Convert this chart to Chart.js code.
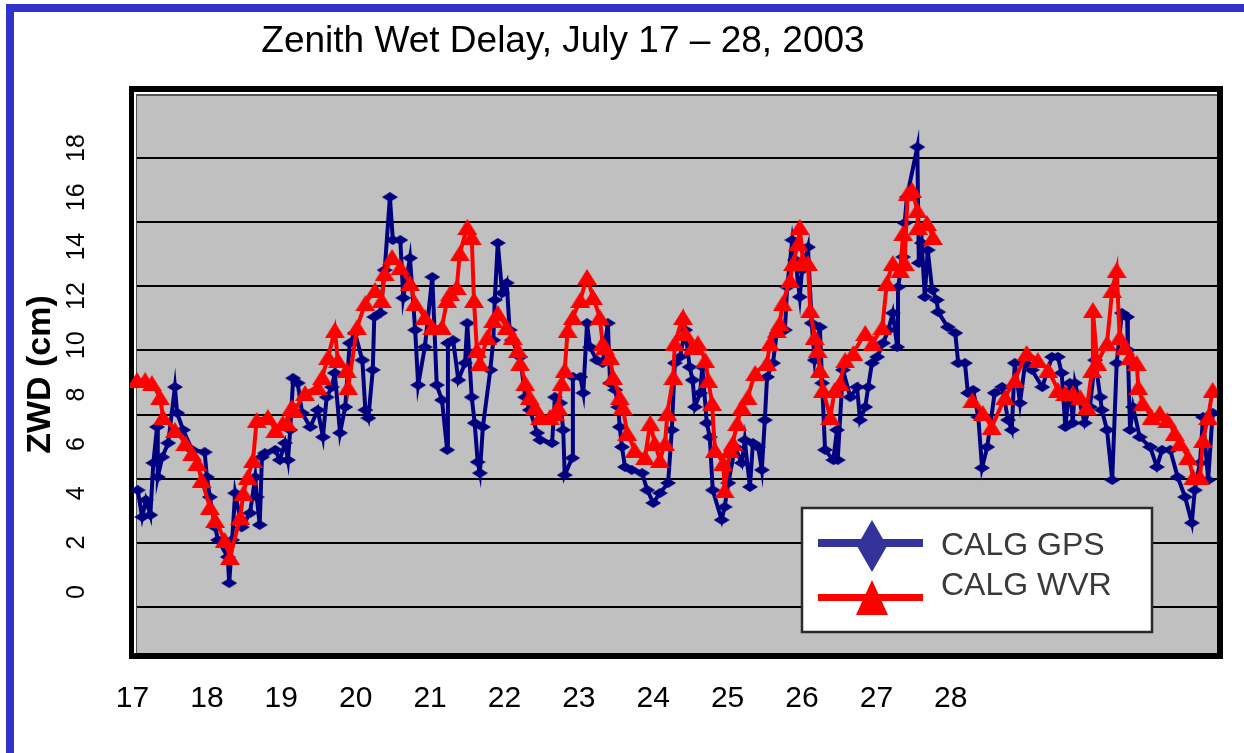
<!DOCTYPE html>
<html>
<head>
<meta charset="utf-8">
<script src="https://cdn.jsdelivr.net/npm/chart.js@4.4.0/dist/chart.umd.min.js"></script>
<style>
html,body{margin:0;padding:0;background:#fff;}
#wrap{width:1244px;height:753px;position:relative;overflow:hidden;}
</style>
</head>
<body>
<div id="wrap"><canvas id="c" width="1244" height="753"></canvas></div>
<script>
// ---- text ----
const chartTitle = 'Zenith Wet Delay, July 17 \u2013 28, 2003';
const yAxisTitle = 'ZWD (cm)';
const gpsLabel = 'CALG GPS';
const wvrLabel = 'CALG WVR';

// ---- tick labels ----
const dayLabels = [17, 18, 19, 20, 21, 22, 23, 24, 25, 26, 27, 28];
const yTickValues = [0, 2, 4, 6, 8, 10, 12, 14, 16, 18];
const gridLevels = [0, 1, 2, 3, 4, 5, 6, 7];

// ---- CALG GPS series ----
const gpsX = [17.07,17.13,17.18,17.24,17.28,17.33,17.34,17.40,17.48,17.57,17.60,17.68,17.80,17.97,18.00,18.04,18.11,18.15,18.28,18.30,
18.34,18.38,18.47,18.58,18.65,18.67,18.71,18.74,18.78,18.92,18.98,19.05,19.09,19.12,19.16,19.22,19.28,19.39,19.49,19.56,
19.61,19.68,19.72,19.79,19.86,19.92,19.99,20.09,20.13,20.17,20.23,20.25,20.33,20.39,20.46,20.50,20.60,20.64,20.73,20.80,
20.84,20.93,21.03,21.09,21.16,21.23,21.24,21.31,21.38,21.47,21.50,21.56,21.60,21.64,21.67,21.71,21.81,21.85,21.87,21.91,
21.97,22.03,22.07,22.10,22.21,22.28,22.34,22.44,22.48,22.64,22.68,22.75,22.79,22.81,22.91,22.92,23.02,23.06,23.11,23.15,
23.24,23.32,23.39,23.42,23.49,23.53,23.55,23.58,23.62,23.71,23.85,23.92,24.00,24.09,24.20,24.25,24.29,24.36,24.43,24.49,
24.53,24.56,24.63,24.66,24.72,24.76,24.80,24.92,24.96,25.01,25.10,25.19,25.23,25.30,25.34,25.41,25.46,25.50,25.53,25.61,
25.66,25.77,25.80,25.87,25.91,25.97,26.00,26.08,26.13,26.17,26.24,26.27,26.31,26.42,26.47,26.48,26.55,26.65,26.74,26.78,
26.85,26.89,26.94,27.01,27.09,27.16,27.22,27.28,27.29,27.36,27.38,27.41,27.55,27.57,27.61,27.65,27.69,27.75,27.81,27.83,
27.96,28.06,28.10,28.19,28.23,28.30,28.37,28.42,28.49,28.59,28.69,28.77,28.82,28.86,28.93,29.00,29.09,29.23,29.36,29.44,
29.49,29.54,29.60,29.64,29.67,29.80,29.87,29.94,30.01,30.03,30.10,30.17,30.23,30.30,30.37,30.38,30.41,30.45,30.54,30.68,
30.77,30.84,30.95,31.05,31.15,31.24,31.28,31.35,31.39,31.46,31.52];
const gpsY = [4.13,3.04,3.73,3.12,5.23,6.69,4.66,5.47,6.04,8.31,7.26,6.57,5.76,5.67,4.66,3.85,2.63,2.11,1.42,0.36,
2.11,4.01,2.63,3.20,4.66,3.85,2.72,5.47,5.63,5.76,5.35,6.04,5.35,6.57,8.67,8.47,7.26,6.69,7.38,6.28,
7.90,8.31,8.88,6.45,7.50,10.09,10.50,9.40,7.38,7.05,9.00,11.15,11.31,13.05,16.01,14.27,14.27,11.92,13.54,10.62,
8.39,9.93,12.77,8.39,7.78,5.76,10.09,10.21,8.59,9.28,10.90,7.90,6.85,5.27,4.82,6.69,9.00,10.21,11.84,14.15,
12.12,12.53,10.62,10.21,9.53,7.90,7.38,6.45,6.16,6.04,7.90,7.66,6.57,4.74,5.43,8.72,8.72,8.07,10.90,9.93,
9.40,9.28,10.90,8.47,8.19,7.50,6.69,5.88,5.07,4.95,4.82,4.13,3.61,4.01,4.42,6.57,9.28,9.53,10.62,9.12,
8.59,7.50,8.07,9.12,6.85,6.28,4.13,2.92,3.45,4.42,5.88,5.23,6.16,4.26,6.04,5.88,4.95,6.97,8.72,9.28,
10.50,10.62,12.36,14.27,13.46,11.96,13.05,13.98,10.90,9.40,10.74,8.47,5.76,5.35,6.57,5.35,9.00,7.90,8.31,6.97,
7.50,8.31,9.28,9.53,10.09,10.62,11.31,9.93,12.36,13.58,14.96,16.01,18.04,13.34,14.15,11.96,13.86,12.24,11.84,11.35,
10.74,10.50,9.28,9.28,8.07,8.19,7.09,5.03,5.88,8.07,8.31,6.97,6.57,9.28,7.66,9.28,9.00,8.31,9.53,9.53,
8.88,6.69,8.47,6.85,8.47,6.85,7.50,9.40,7.90,7.38,6.57,4.54,9.28,11.31,11.15,9.81,6.57,7.50,6.28,5.88,
5.07,5.76,5.76,4.66,3.85,2.80,4.13,5.23,7.09,4.54,7.26];

// ---- CALG WVR series (null = gap in record) ----
const wvrX = [17.06,17.17,17.26,17.37,17.41,17.57,17.71,17.80,17.87,17.93,18.04,18.11,18.24,18.31,18.45,18.49,18.55,18.62,18.67,18.82,
18.92,19.02,19.08,19.14,19.18,19.32,19.49,19.55,19.63,19.72,19.76,19.88,19.90,20.02,20.13,20.26,20.35,20.39,20.49,20.60,
20.73,20.80,20.93,21.03,21.16,21.23,21.27,21.36,21.40,21.50,21.56,21.59,21.63,21.67,21.77,21.85,21.91,22.03,22.11,22.18,
22.21,22.28,22.34,22.41,22.48,22.61,22.68,22.72,22.77,22.81,22.85,22.92,23.02,23.11,23.19,23.28,23.32,23.35,23.42,23.46,
23.55,23.59,23.65,23.75,23.89,23.96,24.02,24.09,24.16,24.19,24.27,24.29,24.40,24.43,24.53,24.60,24.70,24.74,24.79,24.83,
24.94,24.96,25.03,25.07,25.13,25.19,25.27,25.37,25.53,25.57,25.66,25.70,25.74,25.84,25.88,25.95,25.97,26.01,26.08,26.11,
26.17,26.21,26.24,26.28,26.38,26.44,26.51,26.58,26.69,26.85,26.95,27.08,27.14,27.22,27.32,27.36,27.38,27.42,27.48,27.55,
27.56,27.68,27.76,28.00,28.29,28.43,28.55,28.73,28.86,29.02,29.17,29.31,29.44,29.54,29.64,29.74,29.83,29.90,29.91,29.97,
30.10,30.17,30.23,30.27,30.34,30.41,30.50,30.52,30.58,30.70,30.81,30.91,31.01,31.08,31.19,31.26,31.35,31.39,31.46,31.52];
const wvrY = [8.59,8.59,8.47,7.90,7.09,6.57,6.04,5.63,5.23,4.54,3.45,2.92,2.11,1.42,3.04,4.01,4.66,5.35,6.97,7.09,
6.57,6.85,6.85,7.50,7.38,8.07,8.31,8.72,9.53,10.62,9.40,9.00,8.31,10.74,11.71,12.24,11.84,12.93,13.58,13.17,
12.53,11.71,11.15,10.74,10.74,11.84,12.12,12.36,13.74,14.80,14.39,11.84,9.81,9.28,10.34,11.03,11.31,10.74,10.34,9.81,
9.28,8.47,7.90,7.50,7.09,7.09,7.26,7.50,8.47,9.00,10.62,11.15,11.84,12.77,11.96,11.15,10.09,9.93,9.53,8.72,
7.90,7.50,6.45,5.76,5.47,6.85,6.04,5.35,6.04,7.26,8.72,10.09,11.15,10.50,9.93,10.09,9.40,8.59,7.66,5.76,
5.23,4.13,5.76,6.04,6.85,7.50,7.90,8.88,9.28,10.09,10.62,10.90,11.71,12.65,13.34,14.15,14.80,13.46,13.34,11.43,
10.34,9.81,9.00,8.19,7.09,8.19,8.47,9.40,9.69,10.50,10.09,10.74,12.53,13.34,13.05,14.55,13.34,16.17,16.30,15.48,
14.80,14.96,14.39,null,7.78,7.26,6.69,7.90,8.59,9.69,9.40,9.00,8.19,8.07,8.07,7.90,7.50,9.00,11.43,9.28,
10.09,12.24,13.05,10.34,9.93,9.53,9.28,8.31,7.66,7.09,7.26,6.97,6.45,6.04,5.47,4.66,4.66,6.16,7.09,8.19];

// ---- styling ----
const NARROW = "'Liberation Sans Narrow', 'Arial Narrow', 'Liberation Sans', Arial, sans-serif";
const SANS = "'Liberation Sans', Arial, Helvetica, sans-serif";
const GPS_COLOR = '#000080';
const WVR_COLOR = '#ff0000';

function makeDiamond(w, h, color) {
  const c = document.createElement('canvas');
  c.width = w; c.height = h;
  const g = c.getContext('2d');
  g.fillStyle = color;
  g.beginPath();
  g.moveTo(w / 2, 0); g.lineTo(w, h / 2); g.lineTo(w / 2, h); g.lineTo(0, h / 2);
  g.closePath(); g.fill();
  return c;
}
function makeTriangle(w, h, color) {
  const c = document.createElement('canvas');
  c.width = w; c.height = h;
  const g = c.getContext('2d');
  g.fillStyle = color;
  g.beginPath();
  g.moveTo(w / 2, 0); g.lineTo(w, h); g.lineTo(0, h);
  g.closePath(); g.fill();
  return c;
}
const gpsMarker = makeDiamond(16, 10, GPS_COLOR);
const wvrMarker = makeTriangle(20, 16, WVR_COLOR);

const gpsData = gpsX.map((x, i) => ({ x: x, y: gpsY[i] }));
const wvrData = wvrX.map((x, i) => ({ x: x, y: wvrY[i] }));

const decorPlugin = {
  id: 'decor',
  afterLayout(chart) {
    // centre the title over its original position
    if (chart.titleBlock) { chart.titleBlock.left = 0; chart.titleBlock.right = 1126; }
  },
  beforeDraw(chart) {
    const ctx = chart.ctx;
    const a = chart.chartArea;
    ctx.save();
    ctx.fillStyle = '#ffffff';
    ctx.fillRect(0, 0, chart.width, chart.height);
    // blue page border (top and left)
    ctx.fillStyle = '#3333cc';
    ctx.fillRect(6, 4, chart.width - 6, 8);
    ctx.fillRect(6, 4, 8, chart.height - 4);
    // plot frame
    ctx.fillStyle = '#000000';
    ctx.fillRect(a.left - 1, a.top - 10, a.right - a.left + 7, a.bottom - a.top + 16);
    ctx.fillStyle = '#ffffff';
    ctx.fillRect(a.left + 4, a.top - 4, a.right - a.left - 4, a.bottom - a.top + 4);
    ctx.fillStyle = '#555555';
    ctx.fillRect(a.left + 6, a.top - 2, a.right - a.left - 6, a.bottom - a.top + 2);
    ctx.fillStyle = '#c0c0c0';
    ctx.fillRect(a.left + 7, a.top, a.right - a.left - 7, a.bottom - a.top);
    ctx.restore();
  },
  beforeDatasetsDraw(chart) {
    const ctx = chart.ctx;
    const a = chart.chartArea;
    ctx.save();
    ctx.fillStyle = '#000000';
    ctx.fillRect(a.left - 1, a.top - 10, 6, a.bottom - a.top + 16);
    ctx.fillStyle = '#ffffff';
    ctx.fillRect(a.left + 4, a.top - 4, 2, a.bottom - a.top + 4);
    ctx.fillStyle = '#555555';
    ctx.fillRect(a.left + 6, a.top - 2, 1, a.bottom - a.top + 2);
    ctx.restore();
  },
  afterDraw(chart) {
    const ctx = chart.ctx;
    const ds = chart.data.datasets;
    ctx.save();
    // legend box
    ctx.fillStyle = '#ffffff';
    ctx.fillRect(802, 508, 350, 124);
    ctx.strokeStyle = '#2a2a2a';
    ctx.lineWidth = 2.5;
    ctx.strokeRect(802, 508, 350, 124);
    // GPS key
    ctx.fillStyle = '#333399';
    ctx.fillRect(818, 539, 105, 8);
    ctx.beginPath();
    ctx.moveTo(872, 520); ctx.lineTo(887, 546); ctx.lineTo(872, 572); ctx.lineTo(857, 546);
    ctx.closePath(); ctx.fill();
    // WVR key
    ctx.fillStyle = WVR_COLOR;
    ctx.fillRect(818, 594, 105, 7);
    ctx.beginPath();
    ctx.moveTo(872, 580); ctx.lineTo(888, 615); ctx.lineTo(856, 615);
    ctx.closePath(); ctx.fill();
    // texts
    ctx.fillStyle = '#3a3a3a';
    ctx.font = '32px ' + SANS;
    ctx.textAlign = 'left';
    ctx.textBaseline = 'alphabetic';
    ctx.fillText(ds[1].label, 941, 555);
    ctx.fillText(ds[0].label, 941, 595);
    ctx.restore();
  }
};

new Chart(document.getElementById('c'), {
  type: 'line',
  data: {
    datasets: [
      {
        label: wvrLabel,
        data: wvrData,
        order: 1,
        borderColor: WVR_COLOR,
        backgroundColor: WVR_COLOR,
        borderWidth: 4,
        pointStyle: wvrMarker,
        pointRadius: 6,
        pointHoverRadius: 6,
        tension: 0,
        spanGaps: false,
        fill: false
      },
      {
        label: gpsLabel,
        data: gpsData,
        order: 2,
        borderColor: GPS_COLOR,
        backgroundColor: GPS_COLOR,
        borderWidth: 4,
        pointStyle: gpsMarker,
        pointRadius: 5,
        pointHoverRadius: 5,
        tension: 0,
        fill: false
      }
    ]
  },
  options: {
    responsive: false,
    maintainAspectRatio: false,
    devicePixelRatio: 1,
    animation: false,
    layout: { padding: { left: 0, right: 27, top: 0, bottom: 0 } },
    plugins: {
      legend: { display: false },
      tooltip: { enabled: false },
      title: {
        display: true,
        text: chartTitle,
        color: '#000000',
        font: { family: SANS, size: 37, weight: 'normal' },
        padding: { top: 19.3, bottom: 32.3 }
      }
    },
    scales: {
      x: {
        type: 'linear',
        position: 'bottom',
        min: 16.9664,
        max: 31.5785,
        afterBuildTicks: s => { s.ticks = dayLabels.map(v => ({ value: v })); },
        afterFit: s => { s.height = 100; },
        grid: { display: false },
        border: { display: false },
        ticks: {
          autoSkip: false, maxRotation: 0, minRotation: 0, padding: 20,
          color: '#000000',
          font: { family: NARROW, size: 30 },
          callback: v => String(v)
        }
      },
      y: {
        type: 'linear',
        position: 'left',
        min: -2.473,
        max: 20.108,
        afterBuildTicks: s => { s.ticks = yTickValues.map(v => ({ value: v })); },
        afterFit: s => { s.width = 130; },
        grid: { display: false },
        border: { display: false },
        ticks: {
          autoSkip: false, minRotation: 90, maxRotation: 90, crossAlign: 'center', padding: 31,
          color: '#000000',
          font: { family: NARROW, size: 25 },
          callback: v => String(v)
        },
        title: {
          display: true,
          text: yAxisTitle,
          color: '#000000',
          font: { family: SANS, size: 34, weight: 'bold' },
          padding: { top: 20.6, bottom: 0 }
        }
      },
      y2: {
        type: 'linear',
        position: 'right',
        min: -0.7172,
        max: 7.967,
        afterBuildTicks: s => { s.ticks = gridLevels.map(v => ({ value: v })); },
        afterFit: s => { s.width = 0; },
        ticks: { display: false },
        border: { display: false },
        grid: { color: '#000000', lineWidth: 2, drawTicks: false }
      }
    }
  },
  plugins: [decorPlugin]
});
</script>
</body>
</html>
